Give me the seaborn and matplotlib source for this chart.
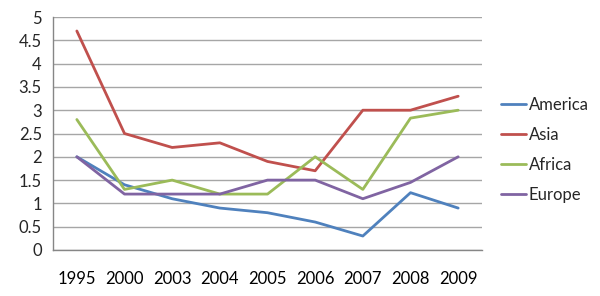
import matplotlib
matplotlib.use("Agg")
import matplotlib.pyplot as plt
import seaborn as sns
import pandas as pd
import numpy as np

years = ["1995", "2000", "2003", "2004", "2005", "2006", "2007", "2008", "2009"]
america = [2.0, 1.4, 1.1, 0.9, 0.8, 0.6, 0.3, 1.23, 0.9]
asia = [4.7, 2.5, 2.2, 2.3, 1.9, 1.7, 3.0, 3.0, 3.3]
africa = [2.8, 1.3, 1.5, 1.2, 1.2, 2.0, 1.3, 2.83, 3.0]
europe = [2.0, 1.2, 1.2, 1.2, 1.5, 1.5, 1.1, 1.45, 2.0]
series_names = ["America", "Asia", "Africa", "Europe"]
y_ticks = [0, 0.5, 1, 1.5, 2, 2.5, 3, 3.5, 4, 4.5, 5]
y_tick_labels = ["0", "0.5", "1", "1.5", "2", "2.5", "3", "3.5", "4", "4.5", "5"]

colors = ["#4F81BD", "#C0504D", "#9BBB59", "#8064A2"]

rows = []
for name, vals in zip(series_names, [america, asia, africa, europe]):
    for i, v in enumerate(vals):
        rows.append({"pos": i, "year": years[i], "value": v, "series": name})
df = pd.DataFrame(rows)

sns.set_style("white")
plt.rcParams["font.family"] = ["Lato", "DejaVu Sans"]

fig = plt.figure(figsize=(6.0, 2.96), dpi=100)
ax = fig.add_axes([53/600, 1 - 250/296, (482 - 53)/600, (250 - 17)/296])

sns.lineplot(data=df, x="pos", y="value", hue="series", hue_order=series_names,
             palette=colors, linewidth=2.0, ax=ax, legend=True)

ax.set_xlim(-0.5, len(years) - 0.5)
ax.set_ylim(0, 5)
ax.set_yticks(y_ticks)
ax.set_yticklabels(y_tick_labels)
ax.set_xticks(range(len(years)))
ax.set_xticklabels(years)
ax.set_xticks(np.arange(-0.5, len(years), 1.0), minor=True)
ax.tick_params(axis="x", which="major", length=0, pad=15, labelsize=12, colors="black")
ax.tick_params(axis="x", which="minor", length=6, width=1, color="#868686", direction="out")
ax.tick_params(axis="y", which="major", length=5, width=1, color="#868686", direction="out",
               labelsize=12, pad=3)
ax.set_xlabel("")
ax.set_ylabel("")
ax.grid(axis="y", color="#A6A6A6", linewidth=1)
ax.set_axisbelow(True)
for s in ["top", "right"]:
    ax.spines[s].set_visible(False)
for s in ["left", "bottom"]:
    ax.spines[s].set_color("#868686")
    ax.spines[s].set_linewidth(1)

handles, labels = ax.get_legend_handles_labels()
ax.legend(handles, labels, loc="center left", bbox_to_anchor=(1.045, 0.43), frameon=False,
          fontsize=12, handlelength=1.5, handletextpad=0.15, labelspacing=0.85, borderaxespad=0,
          borderpad=0)

fig.savefig("out.png", dpi=100)
